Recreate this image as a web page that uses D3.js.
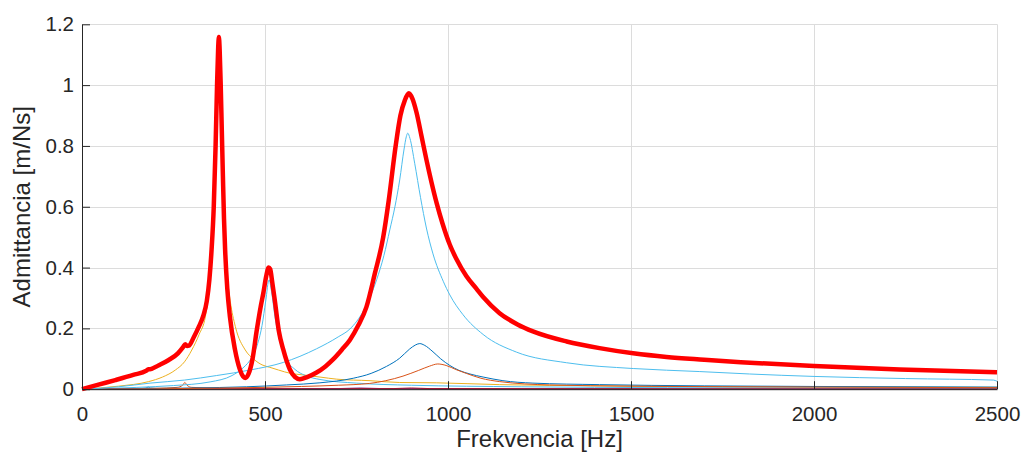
<!DOCTYPE html>
<html>
<head>
<meta charset="utf-8">
<script src="https://cdn.jsdelivr.net/npm/d3@7"></script>
<style>
  html, body { margin: 0; padding: 0; background: #ffffff; }
  svg { display: block; }
  text { font-family: "Liberation Sans", Arial, Helvetica, sans-serif; fill: #262626; }
</style>
</head>
<body>
<svg id="chart" width="1024" height="458"></svg>
<script>
// Frequency response: total admittance and the individual modal contributions.
// Each series is a list of [frequency Hz, admittance m/Ns] samples.

const xTicks = [0, 500, 1000, 1500, 2000, 2500];
const yTicks = [0, 0.2, 0.4, 0.6, 0.8, 1, 1.2];

const mode180 = [[0,0],[150,0.002],[175,0.004],[181,0.007],[187,0.004],[220,0.002],[500,0.001],[2500,0.0005]];

const mode281 = [[0,0],[200,0.003],[260,0.006],[275,0.013],[281,0.022],[287,0.013],[300,0.006],[400,0.003],[600,0.002],[1000,0.001],[2500,0.0005]];

const mode375 = [[0,0],[100,0.01],[182,0.025],[220,0.04],[255,0.063],[280,0.09],[300,0.129],[320,0.18],[337,0.238],[344,0.293],[350,0.36],[358,0.50],[364,0.72],[369,0.95],[372,1.08],[374,1.12],[376,1.08],[379,0.95],[384,0.72],[390,0.50],[398,0.36],[405,0.29],[419,0.206],[446,0.129],[470,0.098],[492,0.080],[513,0.072],[537,0.063],[570,0.052],[604,0.047],[650,0.04],[696,0.033],[787,0.028],[868,0.022],[968,0.021],[1141,0.015],[1414,0.011],[1800,0.008],[2100,0.007],[2500,0.006]];

const mode760 = [[0,0],[500,0.001],[700,0.002],[760,0.004],[820,0.002],[1200,0.001],[2500,0.001]];

const mode511 = [[0,0],[150,0.006],[250,0.012],[350,0.024],[410,0.045],[440,0.07],[464,0.105],[480,0.15],[492,0.21],[502,0.29],[511,0.36],[518,0.32],[527,0.24],[540,0.16],[555,0.105],[582,0.065],[610,0.045],[650,0.032],[750,0.02],[900,0.013],[1200,0.008],[1600,0.005],[2000,0.004],[2500,0.003]];

const mode900 = [[0,0],[600,0.001],[850,0.002],[900,0.004],[950,0.002],[1500,0.001],[2500,0.001]];

const mode923 = [[0,0],[300,0.004],[450,0.008],[559,0.014],[650,0.021],[741,0.036],[790,0.052],[832,0.075],[868,0.102],[895,0.132],[912,0.146],[923,0.150],[935,0.145],[959,0.123],[980,0.10],[1005,0.078],[1030,0.062],[1060,0.05],[1096,0.04],[1150,0.028],[1232,0.02],[1414,0.015],[1700,0.011],[2000,0.009],[2500,0.007]];

const mode972 = [[0,0],[400,0.004],[600,0.009],[700,0.013],[786,0.019],[830,0.028],[877,0.043],[920,0.062],[950,0.076],[972,0.083],[995,0.078],[1023,0.064],[1050,0.052],[1090,0.036],[1141,0.025],[1278,0.014],[1500,0.01],[2000,0.007],[2500,0.005]];

const mode889 = [[0,0],[100,0.008],[186,0.02],[280,0.03],[368,0.045],[459,0.063],[550,0.088],[641,0.133],[700,0.172],[732,0.198],[770,0.26],[805,0.36],[825,0.44],[841,0.524],[855,0.60],[868,0.688],[880,0.79],[886,0.83],[890,0.842],[896,0.825],[909,0.743],[925,0.63],[941,0.53],[959,0.445],[987,0.355],[1005,0.31],[1041,0.245],[1096,0.18],[1187,0.122],[1324,0.087],[1506,0.068],[1688,0.058],[1824,0.05],[2000,0.042],[2250,0.035],[2490,0.030],[2500,0.026]];

const totalAdmittance = [[0,0],[45,0.015],[91,0.030],[140,0.047],[176,0.061],[181,0.066],[186,0.066],[210,0.079],[237,0.096],[262,0.118],[277,0.140],[282,0.148],[287,0.142],[292,0.143],[305,0.170],[319,0.205],[331,0.240],[341,0.290],[348,0.36],[354,0.458],[360,0.60],[365,0.80],[369,1.00],[372,1.12],[374,1.158],[376,1.12],[379,1.00],[382,0.85],[385,0.70],[388,0.56],[391,0.46],[397,0.33],[404,0.24],[418,0.13],[431,0.066],[440,0.042],[446,0.037],[455,0.05],[466,0.10],[477,0.19],[488,0.27],[496,0.32],[503,0.37],[510,0.40],[514,0.395],[520,0.35],[527,0.29],[538,0.19],[550,0.13],[568,0.065],[582,0.04],[595,0.033],[615,0.04],[641,0.055],[665,0.075],[686,0.098],[710,0.13],[732,0.162],[755,0.21],[777,0.27],[800,0.38],[823,0.50],[838,0.62],[857,0.80],[870,0.90],[882,0.95],[893,0.973],[903,0.955],[914,0.91],[928,0.83],[941,0.755],[955,0.68],[969,0.612],[985,0.545],[1005,0.475],[1023,0.428],[1050,0.372],[1078,0.33],[1096,0.303],[1141,0.25],[1190,0.213],[1232,0.19],[1324,0.157],[1414,0.135],[1506,0.118],[1597,0.106],[1700,0.097],[1800,0.089],[2000,0.076],[2234,0.065],[2500,0.056]];

// Thin modal lines, in plotting order, with the default MATLAB colour cycle.
const modes = [
  { data: mode180, color: "#0072BD" },
  { data: mode281, color: "#D95319" },
  { data: mode375, color: "#EDB120" },
  { data: mode760, color: "#7E2F8E" },
  { data: mode511, color: "#4DBEEE" },
  { data: mode900, color: "#A2142F" },
  { data: mode923, color: "#0072BD" },
  { data: mode972, color: "#D95319" },
  { data: mode889, color: "#4DBEEE" }
];

const margin = { left: 82, right: 27, top: 24.3, bottom: 68.8 };
const W = 1024, H = 458;
const svg = d3.select("#chart");

const x = d3.scaleLinear().domain([0, 2500]).range([margin.left, W - margin.right]);
const y = d3.scaleLinear().domain([0, 1.2]).range([H - margin.bottom, margin.top]);

// grid
const grid = svg.append("g").attr("stroke", "#dcdcdc").attr("stroke-width", 1);
grid.selectAll("line.v").data(xTicks.slice(1)).join("line")
  .attr("x1", d => Math.round(x(d)) + 0.5).attr("x2", d => Math.round(x(d)) + 0.5)
  .attr("y1", y(1.2)).attr("y2", y(0));
grid.selectAll("line.h").data(yTicks.slice(1)).join("line")
  .attr("y1", d => Math.round(y(d)) + 0.5).attr("y2", d => Math.round(y(d)) + 0.5)
  .attr("x1", x(0)).attr("x2", x(2500));

const line = d3.line()
  .x(d => x(d[0]))
  .y(d => y(d[1]))
  .curve(d3.curveMonotoneX);

const plot = svg.append("g");
plot.selectAll("path.mode").data(modes).join("path")
  .attr("class", "mode")
  .attr("fill", "none")
  .attr("stroke", d => d.color)
  .attr("stroke-width", 1)
  .attr("d", d => line(d.data));

plot.append("path")
  .attr("fill", "none")
  .attr("stroke", "#FF0000")
  .attr("stroke-width", 4.5)
  .attr("stroke-linejoin", "round")
  .attr("d", line(totalAdmittance));

// axes (ticks pointing inward, no box)
const fmtY = d => (d === 0 ? "0" : d3.format("~g")(d));
const xAxis = svg.append("g")
  .attr("transform", `translate(0,${y(0)})`)
  .call(d3.axisBottom(x).tickValues(xTicks).tickSizeInner(-8).tickSizeOuter(0).tickPadding(17).tickFormat(d3.format("d")));
const yAxis = svg.append("g")
  .attr("transform", `translate(${x(0)},0)`)
  .call(d3.axisLeft(y).tickValues(yTicks).tickSizeInner(-8).tickSizeOuter(0).tickPadding(8).tickFormat(fmtY));

[xAxis, yAxis].forEach(a => {
  a.attr("font-family", null).attr("font-size", null);
  a.selectAll("path.domain").attr("stroke", "#262626").attr("stroke-width", 1);
  a.selectAll(".tick line").attr("stroke", "#262626").attr("stroke-width", 1);
  a.selectAll(".tick text").attr("fill", "#262626").style("font-size", "20.5px");
});

svg.append("text")
  .attr("x", (x(0) + x(2500)) / 2)
  .attr("y", 447)
  .attr("text-anchor", "middle")
  .style("font-size", "24px")
  .text("Frekvencia [Hz]");

svg.append("text")
  .attr("transform", `translate(30,${(y(0) + y(1.2)) / 2}) rotate(-90)`)
  .attr("text-anchor", "middle")
  .style("font-size", "24px")
  .text("Admittancia [m/Ns]");
</script>
</body>
</html>
